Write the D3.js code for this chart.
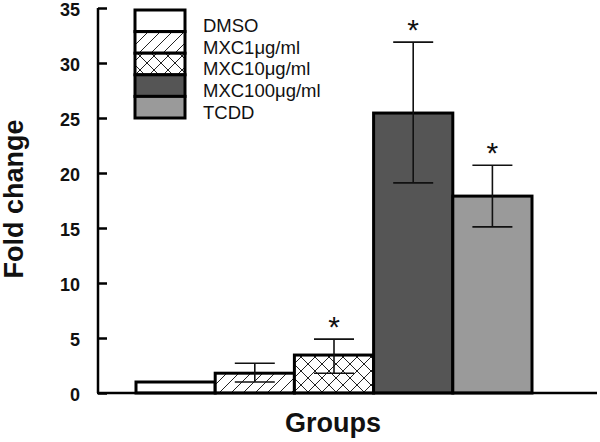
<!DOCTYPE html>
<html><head><meta charset="utf-8">
<script src="https://cdn.jsdelivr.net/npm/d3@7/dist/d3.min.js"></script>
<style>body{margin:0;background:#fff}svg{display:block}</style>
</head><body>
<svg id="c" width="600" height="442"></svg>
<script>
const categories = ["DMSO","MXC1μg/ml","MXC10μg/ml","MXC100μg/ml","TCDD"];
const means = [1.0, 1.8, 3.45, 25.45, 17.9];
const errUpper = [null, 2.7, 4.9, 31.9, 20.7];
const errLower = [null, 1.0, 1.8, 19.1, 15.1];
const significant = [false, false, true, true, true];
const yTicks = [0,5,10,15,20,25,30,35];

const svg = d3.select("#c");
const defs = svg.append("defs");
const p1 = defs.append("pattern").attr("id","diag").attr("patternUnits","userSpaceOnUse")
  .attr("width",12).attr("height",12);
p1.append("rect").attr("width",12).attr("height",12).attr("fill","#fff");
p1.append("path").attr("d","M0,12 L12,0 M-3,3 L3,-3 M9,15 L15,9").attr("stroke","#222").attr("stroke-width",1);
const p2 = defs.append("pattern").attr("id","cross").attr("patternUnits","userSpaceOnUse")
  .attr("width",14).attr("height",14);
p2.append("rect").attr("width",14).attr("height",14).attr("fill","#fff");
p2.append("path").attr("d","M0,14 L14,0 M0,0 L14,14 M-3,3 L3,-3 M11,17 L17,11 M-3,11 L3,17 M11,-3 L17,3").attr("stroke","#222").attr("stroke-width",1);
const fills = ["#fff","url(#diag)","url(#cross)","#555555","#9a9a9a"];

const y = d3.scaleLinear().domain([0,35]).range([393,8]);
const x = d3.scaleBand().domain(categories).range([136,532]).padding(0);

// bars
svg.selectAll("rect.bar").data(categories).enter().append("rect")
  .attr("x",d=>x(d)).attr("width",x.bandwidth())
  .attr("y",(d,i)=>y(means[i])).attr("height",(d,i)=>y(0)-y(means[i]))
  .attr("fill",(d,i)=>fills[i]).attr("stroke","#000").attr("stroke-width",3);

// error bars
const capW = 40;
categories.forEach((c,i)=>{
  if(errUpper[i]==null) return;
  const cx = x(c)+x.bandwidth()/2;
  const g = svg.append("g").attr("stroke","#111").attr("stroke-width",1.6);
  g.append("line").attr("x1",cx).attr("x2",cx).attr("y1",y(errUpper[i])).attr("y2",y(errLower[i]));
  g.append("line").attr("x1",cx-capW/2).attr("x2",cx+capW/2).attr("y1",y(errUpper[i])).attr("y2",y(errUpper[i]));
  g.append("line").attr("x1",cx-capW/2).attr("x2",cx+capW/2).attr("y1",y(errLower[i])).attr("y2",y(errLower[i]));
  if(significant[i]){
    svg.append("text").attr("x",cx).attr("y",y(errUpper[i])-2)
      .attr("text-anchor","middle").attr("font-family","Liberation Sans, Arial, sans-serif")
      .attr("font-size",30).attr("fill","#111").text("*");
  }
});

// axes
const yAxis = d3.axisLeft(y).tickValues(yTicks).tickSize(-9).tickPadding(18).tickFormat(d3.format("d"));
const ga = svg.append("g").attr("transform","translate(98,0)").call(yAxis);
ga.select(".domain").attr("stroke","#000").attr("stroke-width",2.5).attr("d","M0,8V393");
ga.selectAll(".tick line").attr("stroke","#000").attr("stroke-width",2.5);
ga.selectAll(".tick text").attr("font-family","Liberation Sans, Arial, sans-serif")
  .attr("font-size",18).attr("font-weight","bold").attr("fill","#111").attr("dy","0.4em");
svg.append("line").attr("x1",97).attr("x2",597).attr("y1",y(0)).attr("y2",y(0))
  .attr("stroke","#000").attr("stroke-width",2.5);

// axis titles
svg.append("text").attr("x",333).attr("y",432).attr("text-anchor","middle")
  .attr("font-family","Liberation Sans, Arial, sans-serif").attr("font-size",27).attr("font-weight","bold")
  .attr("fill","#111").text("Groups");
svg.append("text").attr("transform","translate(23,199) rotate(-90)").attr("text-anchor","middle")
  .attr("font-family","Liberation Sans, Arial, sans-serif").attr("font-size",27).attr("font-weight","bold")
  .attr("fill","#111").text("Fold change");

// legend
const lx = 135, ly = 10, lw = 50, lh = 21.6;
categories.forEach((c,i)=>{
  svg.append("rect").attr("x",lx).attr("y",ly+i*lh).attr("width",lw).attr("height",lh)
    .attr("fill",fills[i]).attr("stroke","#000").attr("stroke-width",3);
  svg.append("text").attr("x",203).attr("y",ly+(i+1)*lh+0.5)
    .attr("font-family","Liberation Sans, Arial, sans-serif").attr("font-size",18.5)
    .attr("fill","#111").text(c);
});
</script>
</body></html>
